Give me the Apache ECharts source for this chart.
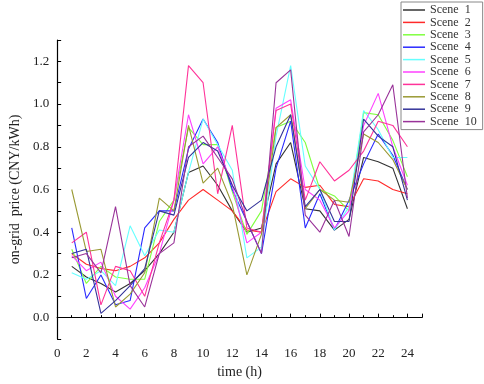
<!DOCTYPE html>
<html>
<head>
<meta charset="utf-8">
<script src="https://cdn.jsdelivr.net/npm/echarts@6/dist/echarts.min.js"></script>
<style>
  html, body { margin: 0; padding: 0; background: #fff; }
  #chart { width: 484px; height: 384px; }
</style>
</head>
<body>
<div id="chart"></div>
<script>
// hours 1..24
const hours = [1,2,3,4,5,6,7,8,9,10,11,12,13,14,15,16,17,18,19,20,21,22,23,24];

const scene1  = [0.24,0.19,0.16,0.12,0.16,0.22,0.30,0.40,0.68,0.71,0.62,0.50,0.40,0.42,0.72,0.82,0.51,0.50,0.41,0.46,0.75,0.73,0.70,0.51];
const scene2  = [0.30,0.25,0.23,0.22,0.24,0.28,0.35,0.46,0.55,0.60,0.55,0.50,0.41,0.40,0.59,0.65,0.61,0.62,0.53,0.52,0.65,0.64,0.60,0.58];
const scene3  = [0.32,0.16,0.24,0.19,0.18,0.18,0.45,0.55,0.89,0.81,0.81,0.59,0.39,0.50,0.89,0.92,0.82,0.60,0.57,0.50,0.96,0.95,0.83,0.66];
const scene4  = [0.42,0.09,0.20,0.06,0.08,0.42,0.50,0.50,0.79,0.93,0.82,0.60,0.45,0.30,0.70,0.92,0.42,0.58,0.41,0.55,0.72,0.86,0.76,0.60];
const scene5  = [0.21,0.18,0.22,0.15,0.43,0.29,0.41,0.40,0.68,0.93,0.81,0.69,0.28,0.33,0.85,1.18,0.71,0.60,0.41,0.52,0.97,0.88,0.75,0.75];
const scene6  = [0.29,0.22,0.26,0.10,0.04,0.14,0.30,0.55,0.95,0.72,0.80,0.62,0.35,0.40,0.98,1.02,0.60,0.55,0.42,0.50,0.90,1.05,0.80,0.62];
const scene7  = [0.35,0.40,0.06,0.24,0.22,0.10,0.35,0.55,1.18,1.10,0.58,0.90,0.42,0.40,0.97,1.00,0.55,0.73,0.64,0.69,0.78,0.92,0.90,0.80];
const scene8  = [0.60,0.31,0.32,0.05,0.11,0.21,0.56,0.50,0.90,0.63,0.70,0.53,0.20,0.39,0.89,0.95,0.51,0.60,0.55,0.54,0.86,0.82,0.74,0.60];
const scene9  = [0.30,0.32,0.02,0.08,0.15,0.23,0.50,0.48,0.75,0.82,0.78,0.62,0.50,0.55,0.80,0.95,0.52,0.60,0.45,0.45,0.93,0.85,0.80,0.55];
const scene10 = [0.28,0.30,0.21,0.52,0.15,0.05,0.30,0.35,0.80,0.85,0.75,0.65,0.45,0.30,1.10,1.16,0.48,0.40,0.55,0.38,0.87,0.95,1.09,0.56];

const names  = ['Scene 1','Scene 2','Scene 3','Scene 4','Scene 5','Scene 6','Scene 7','Scene 8','Scene 9','Scene 10'];
const colors = ['#333333','#ff2a2a','#80ff40','#2a2aff','#66ffff','#ff40ff','#ff3399','#999933','#333399','#993399'];
const values = [scene1, scene2, scene3, scene4, scene5, scene6, scene7, scene8, scene9, scene10];

const font = 'Liberation Serif';

const chart = echarts.init(document.getElementById('chart'));

const series = values.map((vals, i) => ({
  name: names[i],
  type: 'line',
  data: hours.map((h, j) => [h, vals[j]]),
  showSymbol: false,
  symbol: 'none',
  lineStyle: { color: colors[i], width: 1.1 },
  itemStyle: { color: colors[i] }
}));

const option = {
  animation: false,
  grid: { left: 45, top: 40, right: 62, bottom: 42 },
  legend: {
    orient: 'vertical',
    left: 401,
    top: 2,
    data: names,
    icon: 'rect',
    itemWidth: 22,
    itemHeight: 1.5,
    itemGap: 0.4,
    padding: [2, 6, 2, 2],
    borderColor: '#888',
    borderWidth: 1,
    formatter: n => n.replace(' ', '  '),
    textStyle: { fontFamily: font, fontSize: 12, color: '#333', lineHeight: 11 }
  },
  xAxis: {
    type: 'value',
    min: 0,
    max: 25,
    interval: 2,
    name: 'time (h)',
    nameLocation: 'middle',
    nameGap: 26,
    nameTextStyle: { fontFamily: font, fontSize: 14, color: '#222' },
    axisLine: { lineStyle: { color: '#000', width: 1.2 } },
    axisTick: { inside: true, length: 4, lineStyle: { color: '#000' } },
    minorTick: { show: true, splitNumber: 2, length: 2.5, lineStyle: { color: '#000' } },
    axisLabel: { fontFamily: font, fontSize: 13, color: '#222', margin: 8, showMaxLabel: false },
    splitLine: { show: false }
  },
  yAxis: {
    type: 'value',
    min: -0.1,
    max: 1.3,
    interval: 0.1,
    name: 'on-grid  price (CNY/kWh)',
    nameLocation: 'middle',
    nameGap: 34,
    nameTextStyle: { fontFamily: font, fontSize: 14, color: '#222' },
    axisLine: { show: true, lineStyle: { color: '#000', width: 1.2 } },
    axisTick: { inside: true, length: 4, lineStyle: { color: '#000' } },
    axisLabel: {
      fontFamily: font, fontSize: 13, color: '#222', margin: 8,
      formatter: v => {
        const k = Math.round(v * 10);
        return (k >= 0 && k <= 12 && k % 2 === 0) ? (k / 10).toFixed(1) : '';
      }
    },
    splitLine: { show: false }
  },
  series: series
};

chart.setOption(option);
</script>
</body>
</html>
